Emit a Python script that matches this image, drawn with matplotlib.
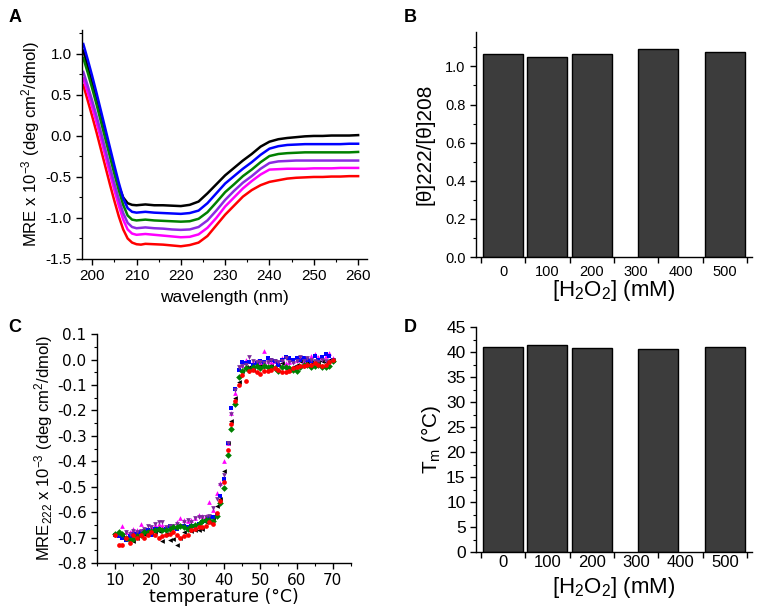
import matplotlib
matplotlib.use('Agg')
import matplotlib.pyplot as plt
from matplotlib.ticker import MultipleLocator, FixedLocator, FormatStrFormatter

plt.rcParams['font.family'] = ['Liberation Sans', 'DejaVu Sans']
plt.rcParams['mathtext.fontset'] = 'custom'
plt.rcParams['mathtext.rm'] = 'Liberation Sans'
plt.rcParams['mathtext.it'] = 'Liberation Sans:italic'
plt.rcParams['axes.linewidth'] = 1.0

# ---- panel A: CD spectra ----
wavelength = [198, 199, 200, 201, 202, 203, 204, 205, 206, 207, 208, 209, 210, 211, 212,
              214, 216, 218, 220, 222, 224, 226, 228, 230, 232, 234, 236, 238, 240, 242,
              244, 246, 248, 250, 252, 254, 256, 258, 260]
cd_black = [1.04, 0.84, 0.64, 0.43, 0.22, 0.01, -0.21, -0.42, -0.61, -0.75, -0.82, -0.84, -0.845, -0.84, -0.835,
            -0.845, -0.845, -0.85, -0.855, -0.84, -0.80, -0.70, -0.59, -0.48, -0.39, -0.30, -0.22, -0.13, -0.07, -0.04,
            -0.025, -0.015, -0.005, 0.0, 0.0, 0.005, 0.005, 0.005, 0.01]
cd_blue = [1.12, 0.93, 0.73, 0.52, 0.30, 0.08, -0.14, -0.36, -0.57, -0.76, -0.88, -0.925, -0.935, -0.93, -0.925,
           -0.935, -0.94, -0.945, -0.95, -0.94, -0.91, -0.82, -0.70, -0.58, -0.49, -0.40, -0.32, -0.23, -0.155, -0.125,
           -0.11, -0.105, -0.10, -0.10, -0.10, -0.10, -0.10, -0.095, -0.095]
cd_green = [0.95, 0.77, 0.58, 0.38, 0.17, -0.04, -0.25, -0.46, -0.66, -0.84, -0.97, -1.02, -1.03, -1.025, -1.02,
            -1.03, -1.035, -1.04, -1.045, -1.04, -1.01, -0.93, -0.81, -0.685, -0.59, -0.49, -0.41, -0.32, -0.245, -0.22,
            -0.21, -0.205, -0.20, -0.20, -0.20, -0.20, -0.20, -0.20, -0.195]
cd_purple = [0.78, 0.61, 0.43, 0.24, 0.04, -0.17, -0.38, -0.58, -0.77, -0.94, -1.06, -1.11, -1.125, -1.12, -1.115,
             -1.125, -1.13, -1.14, -1.145, -1.14, -1.11, -1.03, -0.91, -0.78, -0.67, -0.57, -0.49, -0.40, -0.33, -0.31,
             -0.305, -0.30, -0.30, -0.30, -0.30, -0.30, -0.30, -0.30, -0.30]
cd_magenta = [0.70, 0.53, 0.35, 0.16, -0.04, -0.25, -0.46, -0.66, -0.85, -1.02, -1.14, -1.19, -1.205, -1.20, -1.195,
              -1.205, -1.215, -1.225, -1.235, -1.23, -1.20, -1.12, -1.00, -0.86, -0.75, -0.64, -0.55, -0.47, -0.41, -0.405,
              -0.40, -0.40, -0.40, -0.395, -0.395, -0.395, -0.39, -0.39, -0.39]
cd_red = [0.62, 0.43, 0.24, 0.04, -0.17, -0.38, -0.59, -0.79, -0.98, -1.14, -1.25, -1.30, -1.32, -1.325, -1.315,
          -1.32, -1.325, -1.335, -1.345, -1.33, -1.30, -1.22, -1.09, -0.96, -0.85, -0.74, -0.66, -0.60, -0.56, -0.54,
          -0.52, -0.51, -0.505, -0.50, -0.50, -0.495, -0.495, -0.49, -0.49]

# ---- panels B and D: bars ----
h2o2 = [0, 100, 200, 350, 500]
ratio_222_208 = [1.066, 1.049, 1.064, 1.089, 1.073]
tm_values = [41.0, 41.4, 40.8, 40.7, 41.0]
h2o2_labels = ['0', '100', '200', '300', '400', '500']

# ---- panel C: thermal melts ----
temperature = list(range(10, 71))
melt_black = [-0.69, -0.69, -0.695, -0.70, -0.69, -0.715, -0.70, -0.695, -0.685, -0.68,
              -0.685, -0.68, -0.675, -0.715, -0.685, -0.71, -0.705, -0.73, -0.70, -0.68,
              -0.67, -0.675, -0.67, -0.67, -0.665, -0.64, -0.64, -0.625, -0.575, -0.55,
              -0.44, -0.33, -0.24, -0.15, -0.09, -0.045, -0.03, -0.03, -0.04, -0.03,
              -0.02, -0.025, -0.03, -0.02, -0.01, -0.02, -0.015, -0.035, -0.04, -0.03,
              -0.02, -0.005, -0.01, -0.015, -0.01, -0.02, -0.01, -0.005, -0.01, 0.0, 0.0]
melt_magenta = [-0.685, -0.69, -0.655, -0.68, -0.68, -0.665, -0.67, -0.645, -0.665, -0.67,
                -0.66, -0.65, -0.645, -0.65, -0.665, -0.655, -0.66, -0.64, -0.625, -0.63,
                -0.635, -0.63, -0.625, -0.61, -0.615, -0.615, -0.56, -0.59, -0.525, -0.485,
                -0.40, -0.33, -0.21, -0.13, -0.035, -0.02, 0.0, -0.005, -0.01, -0.005,
                -0.01, 0.035, -0.005, -0.01, -0.005, -0.01, 0.005, -0.015, -0.01, -0.005,
                0.0, 0.01, -0.005, 0.005, 0.015, 0.02, 0.01, 0.01, 0.015, 0.025, 0.005]
melt_blue = [-0.69, -0.695, -0.70, -0.71, -0.695, -0.685, -0.685, -0.68, -0.675, -0.67,
             -0.69, -0.665, -0.665, -0.67, -0.665, -0.655, -0.66, -0.665, -0.655, -0.655,
             -0.66, -0.655, -0.655, -0.645, -0.64, -0.635, -0.625, -0.62, -0.61, -0.535,
             -0.47, -0.33, -0.19, -0.115, -0.04, -0.01, -0.015, -0.01, -0.02, -0.015,
             -0.005, -0.01, 0.005, 0.0, -0.005, -0.02, 0.0, 0.01, 0.005, 0.0,
             0.005, 0.0, 0.005, 0.0, -0.005, 0.015, 0.0, 0.01, 0.02, 0.015, 0.0]
melt_purple = [-0.69, -0.685, -0.69, -0.68, -0.685, -0.675, -0.68, -0.675, -0.665, -0.655,
               -0.66, -0.645, -0.64, -0.64, -0.66, -0.655, -0.655, -0.645, -0.655, -0.64,
               -0.63, -0.64, -0.625, -0.62, -0.62, -0.62, -0.615, -0.585, -0.55, -0.495,
               -0.455, -0.33, -0.215, -0.12, -0.03, -0.025, -0.02, 0.01, -0.005, -0.01,
               -0.01, -0.015, -0.01, 0.0, -0.005, -0.01, -0.005, 0.005, -0.01, -0.015,
               -0.005, 0.01, -0.005, 0.005, 0.0, -0.005, -0.01, 0.0, -0.005, -0.01, -0.005]
melt_green = [-0.685, -0.68, -0.685, -0.70, -0.71, -0.705, -0.695, -0.69, -0.68, -0.68,
              -0.675, -0.67, -0.665, -0.67, -0.67, -0.665, -0.66, -0.66, -0.655, -0.66,
              -0.665, -0.655, -0.65, -0.645, -0.635, -0.63, -0.63, -0.635, -0.615, -0.565,
              -0.505, -0.375, -0.275, -0.175, -0.07, -0.045, -0.035, -0.04, -0.03, -0.025,
              -0.035, -0.025, -0.03, -0.03, -0.035, -0.045, -0.03, -0.03, -0.035, -0.04,
              -0.045, -0.03, -0.02, -0.02, -0.03, -0.025, -0.02, -0.03, -0.03, -0.025, -0.005]
melt_red = [-0.69, -0.73, -0.73, -0.70, -0.72, -0.69, -0.70, -0.69, -0.70, -0.69,
            -0.68, -0.69, -0.70, -0.695, -0.69, -0.685, -0.68, -0.69, -0.70, -0.695,
            -0.69, -0.67, -0.665, -0.66, -0.66, -0.655, -0.64, -0.645, -0.605, -0.555,
            -0.48, -0.355, -0.255, -0.165, -0.10, -0.06, -0.085, -0.045, -0.04, -0.05,
            -0.055, -0.045, -0.045, -0.04, -0.035, -0.04, -0.05, -0.05, -0.045, -0.035,
            -0.03, -0.025, -0.025, -0.02, -0.02, -0.015, -0.02, -0.025, -0.02, -0.01, 0.0]


def style_axes(ax):
    ax.spines['top'].set_visible(False)
    ax.spines['right'].set_visible(False)
    ax.tick_params(which='major', direction='out', length=4, width=1)
    ax.tick_params(which='minor', direction='out', length=2.5, width=0.8)


fig = plt.figure(figsize=(7.62, 6.12), dpi=100)

# panel A
ax = fig.add_axes([0.1076, 0.5768, 0.374, 0.374])
spectra = [(cd_black, '#000000'), (cd_red, '#ff0000'), (cd_magenta, '#ff00ff'),
           (cd_purple, '#8a2be2'), (cd_green, '#008000'), (cd_blue, '#0000ff')]
for vals, col in spectra:
    ax.plot(wavelength, vals, color=col, lw=1.8)
ax.set_xlim(197.7, 262)
ax.set_ylim(-1.5, 1.29)
ax.xaxis.set_major_locator(MultipleLocator(10))
ax.xaxis.set_minor_locator(MultipleLocator(5))
ax.yaxis.set_major_locator(MultipleLocator(0.5))
ax.yaxis.set_minor_locator(MultipleLocator(0.25))
ax.yaxis.set_major_formatter(FormatStrFormatter('%.1f'))
style_axes(ax)
ax.tick_params(labelsize=11)
ax.set_xlabel('wavelength (nm)', fontsize=12.5)
ax.set_ylabel('MRE x 10$^{-3}$ (deg cm$^2$/dmol)', fontsize=12)
ax.xaxis.set_label_coords(0.5, -0.135)
ax.yaxis.set_label_coords(-0.14, 0.5)


def bar_panel(rect, values, ylim, major, minor, ylabel, ylab_x, xlab_y, yfs, xfs, fmt, xpad):
    ax = fig.add_axes(rect)
    ax.bar(h2o2, values, width=90, color='#3c3c3c', edgecolor='black', linewidth=1)
    ax.set_xlim(-61, 561)
    ax.set_ylim(*ylim)
    ax.xaxis.set_major_locator(FixedLocator([0, 100, 200, 300, 400, 500]))
    ax.set_xticklabels(h2o2_labels)
    ax.xaxis.set_minor_locator(FixedLocator([-50, 50, 150, 250, 350, 450, 550]))
    ax.yaxis.set_major_locator(MultipleLocator(major))
    ax.yaxis.set_minor_locator(MultipleLocator(minor))
    ax.yaxis.set_major_formatter(FormatStrFormatter(fmt))
    style_axes(ax)
    ax.tick_params(axis='x', which='major', length=0, labelsize=xfs, pad=xpad)
    ax.tick_params(axis='x', which='minor', length=4, width=1)
    ax.tick_params(axis='y', labelsize=yfs)
    ax.set_xlabel('[H$_2$O$_2$] (mM)', fontsize=16)
    ax.set_ylabel(ylabel, fontsize=15)
    ax.xaxis.set_label_coords(0.5, xlab_y)
    ax.yaxis.set_label_coords(ylab_x, 0.5)
    return ax


# panel B
bar_panel([0.6247, 0.580, 0.3622, 0.3676], ratio_222_208, (0, 1.18), 0.2, 0.1,
          '[θ]222/[θ]208', -0.152, -0.095, 10.5, 10.5, '%.1f', 6)

# panel D
bar_panel([0.6247, 0.098, 0.3622, 0.3676], tm_values, (0, 45), 5, 2.5,
          'T$_\\mathrm{m}$ (°C)', -0.12, -0.1, 12.5, 12, '%d', 2)

# panel C
ax = fig.add_axes([0.1273, 0.0801, 0.3333, 0.374])
melts = [(melt_black, 'k', '<'), (melt_magenta, '#ff00ff', '^'), (melt_blue, '#0000ff', 's'),
         (melt_purple, '#7b2c9a', 'v'), (melt_green, '#008000', 'D'), (melt_red, '#ff0000', 'o')]
for vals, col, mk in melts:
    ax.plot(temperature, vals, ls='none', marker=mk, color=col, markersize=3.4, mew=0)
ax.set_xlim(5, 75)
ax.set_ylim(-0.8, 0.1)
ax.xaxis.set_major_locator(MultipleLocator(10))
ax.xaxis.set_minor_locator(MultipleLocator(5))
ax.yaxis.set_major_locator(MultipleLocator(0.1))
ax.yaxis.set_minor_locator(MultipleLocator(0.05))
ax.yaxis.set_major_formatter(FormatStrFormatter('%.1f'))
style_axes(ax)
ax.tick_params(labelsize=11)
for lab in ax.get_xticklabels() + ax.get_yticklabels():
    lab.set_fontfamily('DejaVu Sans')
ax.set_xlabel('temperature (°C)', fontsize=12.5, family='DejaVu Sans')
ax.set_ylabel('MRE$_{222}$ x 10$^{-3}$ (deg cm$^2$/dmol)', fontsize=12)
ax.xaxis.set_label_coords(0.5, -0.109)
ax.yaxis.set_label_coords(-0.165, 0.5)

# panel letters
for x, y, s in [(15, 17, 'A'), (410, 17, 'B'), (15, 327, 'C'), (410, 327, 'D')]:
    fig.text(x / 762, 1 - y / 612, s, fontsize=13, fontweight='bold', ha='center', va='center')

fig.savefig('out.png', dpi=100)
